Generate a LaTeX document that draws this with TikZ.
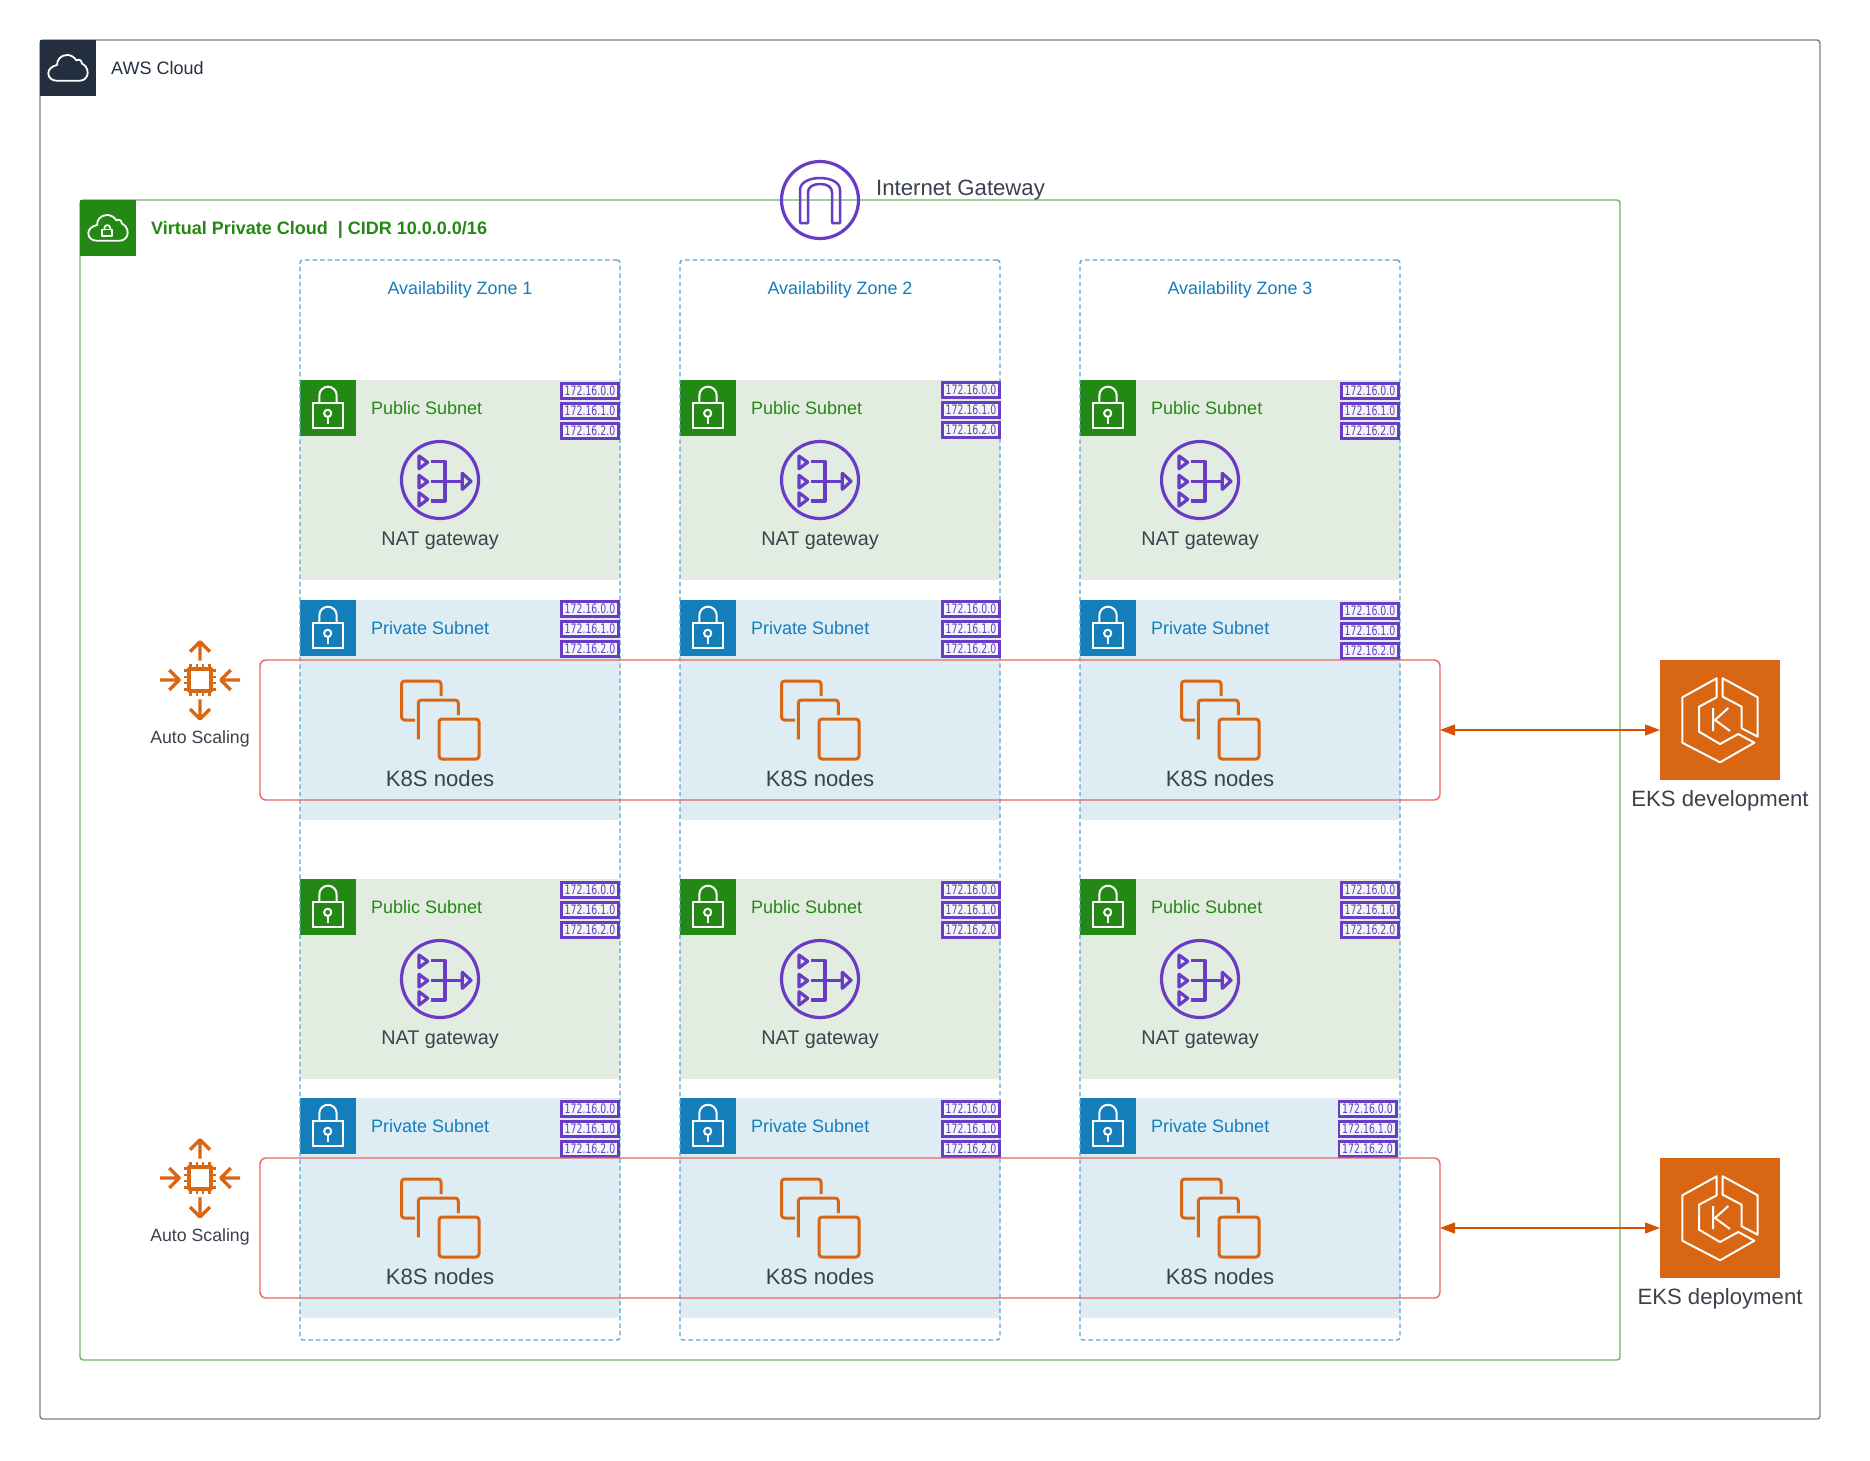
\documentclass[tikz,border=0pt]{standalone}
\usepackage{fontspec}
\setmainfont{Liberation Sans}
\newfontfamily\tagfont[FakeStretch=0.72]{DejaVu Sans}
\usetikzlibrary{arrows.meta}
\definecolor{awsnavy}{HTML}{232F3E}
\definecolor{awsgreen}{HTML}{248814}
\definecolor{awsblue}{HTML}{147EBA}
\definecolor{awsorange}{HTML}{D86613}
\definecolor{awspurple}{HTML}{693CC5}
\definecolor{pubfill}{HTML}{E2ECE0}
\definecolor{privfill}{HTML}{DEECF4}
\definecolor{redline}{HTML}{E8685E}
\definecolor{vpcline}{HTML}{6FB566}
\definecolor{azline}{HTML}{58A8D4}
\definecolor{cloudline}{HTML}{7A828C}
\definecolor{txt}{HTML}{3A424E}
\definecolor{arrowc}{HTML}{D45200}
\tikzset{
  x=1pt,y=-1pt,
  lbl/.style={inner sep=0pt,anchor=base,font=\fontsize{19.8}{24}\selectfont,text=txt},
  big/.style={lbl,font=\fontsize{22.15}{26}\selectfont},
  sm/.style={inner sep=0pt,anchor=base west,font=\fontsize{18}{22}\selectfont},
  frame/.style={rectangle,inner sep=0pt,outer sep=0pt,anchor=north west,line width=1.4pt,rounded corners=3pt},
  tagbox/.style={draw=awspurple,line width=2.8pt,rectangle,minimum width=57.2pt,minimum height=15.2pt,inner sep=0pt,text=awspurple,font=\tagfont\fontsize{13}{13}\selectfont,anchor=north west,fill=white,fill opacity=.55,text opacity=1},
  iconbox/.style={rectangle,minimum size=56pt,inner sep=0pt,outer sep=0pt,anchor=north west},
  whiteln/.style={draw=white,line width=2pt,line join=round,line cap=round},
  purpln/.style={draw=awspurple,line width=3.2pt,line join=round},
  orgln/.style={draw=awsorange,line width=3pt,line join=round},
  lockicon/.pic={
    \draw[whiteln,line join=miter] (12.7,22.7) rectangle (43.3,48.3);
    \draw[whiteln] (19.3,22.7) -- (19.3,15.4) arc[start angle=180,end angle=360,radius=8.7] -- (36.7,22.7);
    \draw[whiteln] (27.7,33.3) circle[radius=3.6];
    \draw[whiteln] (27.7,37) -- (27.7,43.3);
  },
  cloudpath/.pic={
    \draw[whiteln,line width=1.8pt] (16.7,40.7) -- (40,40.7)
      .. controls (44.7,40.7) and (47.7,36.7) .. (47.7,32.7)
      .. controls (47.7,28) and (44.7,24.6) .. (41.8,23.6)
      .. controls (42,20.2) and (38.8,18.8) .. (36.4,20.4)
      .. controls (34,16.7) and (30.7,15) .. (27,15)
      .. controls (21,15) and (17,19.5) .. (17,25)
      .. controls (12,26.2) and (8.3,29) .. (8.3,33.3)
      .. controls (8.3,37.7) and (12,40.7) .. (16.7,40.7) -- cycle;
  },
  naticon/.pic={
    \draw[purpln] (0,0) circle[radius=38.5];
    \draw[purpln] (-21,-24) -- (-21,-11.3) -- (-12.3,-17.7) -- cycle;
    \draw[purpln] (-21,-4.7) -- (-21,8) -- (-12.3,1.7) -- cycle;
    \draw[purpln] (-21,12.7) -- (-21,26) -- (-12.3,19.3) -- cycle;
    \draw[purpln] (22.3,-6.7) -- (22.3,9.3) -- (31,1.3) -- cycle;
    \draw[purpln] (-9,-18.3) -- (5,-18.3) -- (5,21) -- (-9,21);
    \draw[purpln] (-9,1.7) -- (22.3,1.7);
  },
  igicon/.pic={
    \draw[purpln] (0,0) circle[radius=38.5];
    \draw[purpln,line width=2.5pt] (-20,23) -- (-20,-10) .. controls (-20,-18) and (-10,-22) .. (0,-22)
       .. controls (10,-22) and (20,-18) .. (20,-10) -- (20,23) -- (12,23) -- (12,-8)
       .. controls (12,-13) and (7,-16) .. (0,-16) .. controls (-7,-16) and (-12,-13) .. (-12,-8) -- (-12,23) -- cycle;
  },
  nodesicon/.pic={
    \draw[orgln,rounded corners=3pt] (-1,-1) rectangle (39,39);
    \draw[orgln,rounded corners=3pt] (-21.7,19.3) -- (-21.7,-20) -- (18.3,-20) -- (18.3,-5);
    \draw[orgln,rounded corners=3pt] (-25,0) -- (-38.5,0) -- (-38.5,-39) -- (1,-39) -- (1,-24);
  },
  scaleicon/.pic={
    \draw[orgln,line width=3.4pt] (-11,-11) rectangle (11,11);
    \foreach \t in {-9.5,-3,3,9.5}{
      \draw[awsorange,line width=2.5pt] (\t,-11) -- (\t,-16);
      \draw[awsorange,line width=2.5pt] (\t,11) -- (\t,16);
      \draw[awsorange,line width=2.5pt] (-11,\t) -- (-16,\t);
      \draw[awsorange,line width=2.5pt] (11,\t) -- (16,\t);
    }
    \draw[orgln,line width=3.4pt] (0,-19.3) -- (0,-38.3) (-10,-28.3) -- (0,-38.3) -- (10,-28.3);
    \draw[orgln,line width=3.4pt] (0,19.3) -- (0,39) (-10,29) -- (0,39) -- (10,29);
    \draw[orgln,line width=3.4pt] (-40,0) -- (-20,0) (-30.7,-10) -- (-20.7,0) -- (-30.7,10);
    \draw[orgln,line width=3.4pt] (40,0) -- (20,0) (30.7,-10) -- (20.7,0) -- (30.7,10);
  },
  eksicon/.pic={
    \draw[whiteln,line width=2pt,line cap=butt] (56.7,18.3) -- (22.3,37.3) -- (22.3,82.7) -- (60,102.3) -- (94.3,82.7) -- (78.3,74) -- (60,84) -- (39,71.7) -- (39,46.7) -- (56.7,37.3) -- cycle;
    \draw[whiteln,line width=2pt,line cap=butt] (62.7,18.3) -- (97.7,37.3) -- (97.7,76.7) -- (81.7,68.3) -- (81.7,46.7) -- (62.7,36.7) -- cycle;
    \draw[whiteln,line width=2pt,line cap=butt] (53,48) -- (53,71) (68.3,48) -- (55,60) -- (70,71);
  },
  link/.style={draw=arrowc,line width=1.2pt,{Triangle[length=15pt,width=11pt]}-{Triangle[length=15pt,width=11pt]}}
}
\begin{document}
\begin{tikzpicture}
\useasboundingbox (0,0) rectangle (1870,1460);
\fill[white] (0,0) rectangle (1870,1460);

% AWS Cloud
\node[frame,draw=cloudline,minimum width=1780pt,minimum height=1379pt] (aws) at (40,40) {};
\node[iconbox,fill=awsnavy] (awsicon) at (40,40) {};
\pic at (40,40) {cloudpath};
\node[sm,text=awsnavy] (awslabel) at (111,74) {AWS Cloud};

% VPC
\node[frame,draw=vpcline,minimum width=1540pt,minimum height=1160pt] (vpc) at (80,200) {};
\node[iconbox,fill=awsgreen] (vpcicon) at (80,200) {};
\pic at (80,200) {cloudpath};
\draw[whiteln,line width=1.8pt] (102.3,229.5) rectangle (112.3,235.7);
\draw[whiteln,line width=1.8pt] (104.4,229.5) -- (104.4,228) arc[start angle=180,end angle=360,radius=2.9] -- (110.2,229.5);
\node[sm,text=awsgreen,font=\bfseries\fontsize{18}{22}\selectfont] (vpclabel) at (151,234) {Virtual Private Cloud\ \ | CIDR 10.0.0.0/16};

% Subnets
\foreach \c/\cx/\nx/\kx in {1/300/440/440,2/680/820/820,3/1080/1200/1220}{
  \foreach \r/\pubtop/\privtop in {1/380/600,2/879/1098}{
    \node[frame,line width=0pt,fill=pubfill,minimum width=320pt,minimum height=200pt] (pub-\r-\c) at (\cx,\pubtop) {};
    \node[frame,line width=0pt,fill=privfill,minimum width=320pt,minimum height=220pt] (priv-\r-\c) at (\cx,\privtop) {};
    \node[iconbox,fill=awsgreen] (publock-\r-\c) at (\cx,\pubtop) {};
    \pic at (\cx,\pubtop) {lockicon};
    \node[iconbox,fill=awsblue] (privlock-\r-\c) at (\cx,\privtop) {};
    \pic at (\cx,\privtop) {lockicon};
    \node[sm,text=awsgreen] (publbl-\r-\c) at ({\cx+71},{\pubtop+34}) {Public Subnet};
    \node[sm,text=awsblue] (privlbl-\r-\c) at ({\cx+71},{\privtop+34}) {Private Subnet};
    \pic at (\nx,{\pubtop+100}) {naticon};
    \node[lbl] (natlbl-\r-\c) at (\nx,{\pubtop+165}) {NAT gateway};
    \pic at (\kx,{\privtop+120}) {nodesicon};
    \node[big] (k8slbl-\r-\c) at (\kx,{\privtop+186.7}) {K8S nodes};
  }
}

% Availability zones
\foreach \c/\cx in {1/300,2/680,3/1080}{
  \node[frame,draw=azline,dash pattern=on 4.5pt off 3pt,minimum width=320pt,minimum height=1080pt] (az-\c) at (\cx,260) {};
  \node[sm,anchor=base,text=awsblue,font=\fontsize{17.9}{22}\selectfont] (azlbl-\c) at ({\cx+160},294) {Availability Zone \c};
}

% CIDR tags
\foreach \tx/\ty/\tn in {
  560/382/a,941/381/b,1340/382/c,
  560/600/d,941/600/e,1340/602/f,
  560/881/g,941/881/h,1340/881/i,
  560/1100/j,941/1100/k,1337.5/1100/l}{
  \node[tagbox] (tag-\tn-0) at (\tx,\ty) {172.16.0.0};
  \node[tagbox] (tag-\tn-1) at (\tx,{\ty+20}) {172.16.1.0};
  \node[tagbox] (tag-\tn-2) at (\tx,{\ty+40}) {172.16.2.0};
}

% Auto scaling groups
\node[frame,draw=redline,rounded corners=6pt,minimum width=1180pt,minimum height=140pt] (asg1) at (260,660) {};
\node[frame,draw=redline,rounded corners=6pt,minimum width=1180pt,minimum height=140pt] (asg2) at (260,1158) {};
\pic at (200,680) {scaleicon};
\node[sm,anchor=base,text=txt,font=\fontsize{17.7}{22}\selectfont] (as1) at (200,743) {Auto Scaling};
\pic at (200,1178) {scaleicon};
\node[sm,anchor=base,text=txt,font=\fontsize{17.7}{22}\selectfont] (as2) at (200,1241) {Auto Scaling};

% Internet gateway
\pic at (820,200) {igicon};
\node[big,anchor=base west] (iglbl) at (876,195) {Internet Gateway};

% EKS
\node[rectangle,fill=awsorange,minimum size=120pt,inner sep=0pt,outer sep=0pt,anchor=north west] (eks1) at (1660,660) {};
\pic at (1660,660) {eksicon};
\node[big] (eks1lbl) at (1720,806.7) {EKS development};
\node[rectangle,fill=awsorange,minimum size=120pt,inner sep=0pt,outer sep=0pt,anchor=north west] (eks2) at (1660,1158) {};
\pic at (1660,1158) {eksicon};
\node[big] (eks2lbl) at (1720,1304.7) {EKS deployment};

\draw[link] (asg1.east) -- (asg1.east -| eks1.west);
\draw[link] (asg2.east) -- (asg2.east -| eks2.west);
\end{tikzpicture}
\end{document}
